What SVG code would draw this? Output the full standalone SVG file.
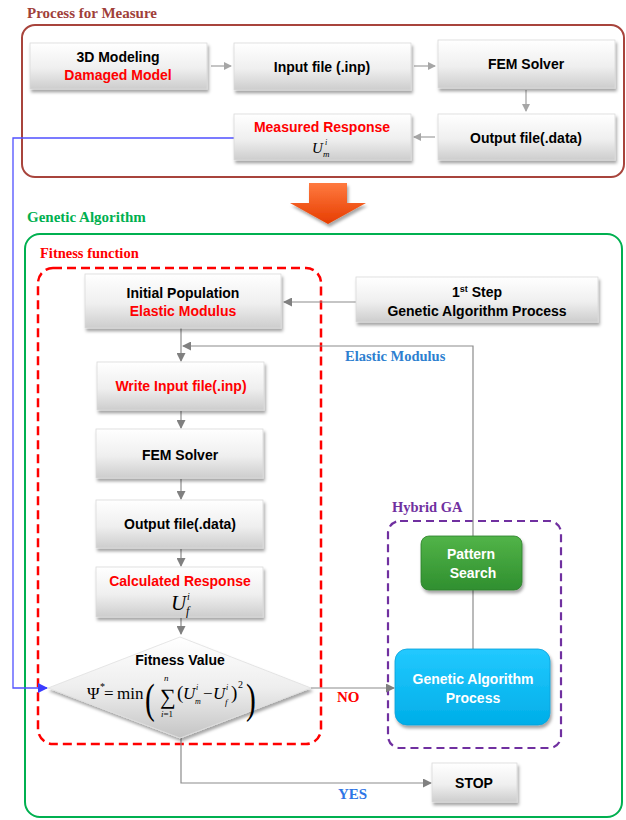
<svg xmlns="http://www.w3.org/2000/svg" width="626" height="820" viewBox="0 0 626 820">
<defs>
<linearGradient id="gBox" x1="0" y1="0" x2="0" y2="1">
<stop offset="0" stop-color="#ffffff"/><stop offset="0.55" stop-color="#efefef"/><stop offset="1" stop-color="#cdcdcd"/>
</linearGradient>
<linearGradient id="gDia" x1="0" y1="0" x2="0" y2="1">
<stop offset="0" stop-color="#ffffff"/><stop offset="0.5" stop-color="#eeeeee"/><stop offset="1" stop-color="#c4c4c4"/>
</linearGradient>
<linearGradient id="gOr" x1="0" y1="0" x2="0" y2="1">
<stop offset="0" stop-color="#ff7a40"/><stop offset="1" stop-color="#e63d00"/>
</linearGradient>
<linearGradient id="gGreen" x1="0" y1="0" x2="0" y2="1">
<stop offset="0" stop-color="#52b448"/><stop offset="1" stop-color="#2f8f2f"/>
</linearGradient>
<linearGradient id="gCyan" x1="0" y1="0" x2="0" y2="1">
<stop offset="0" stop-color="#22c9ff"/><stop offset="1" stop-color="#00aee8"/>
</linearGradient>
<filter id="sh" x="-10%" y="-10%" width="125%" height="140%">
<feDropShadow dx="1.5" dy="3" stdDeviation="1.8" flood-color="#000" flood-opacity="0.35"/>
</filter>
<marker id="ag" markerWidth="8" markerHeight="8" refX="7" refY="4" orient="auto" markerUnits="userSpaceOnUse">
<path d="M0,0 L8,4 L0,8 Z" fill="#a6a6a6"/>
</marker>
<marker id="ad" markerWidth="9" markerHeight="9" refX="8" refY="4.5" orient="auto" markerUnits="userSpaceOnUse">
<path d="M0,0 L9,4.5 L0,9 Z" fill="#808080"/>
</marker>
<marker id="ab" markerWidth="10" markerHeight="10" refX="9" refY="5" orient="auto" markerUnits="userSpaceOnUse">
<path d="M0,0 L10,5 L0,10 Z" fill="#3a3aff"/>
</marker>
</defs>
<style>
.box{fill:url(#gBox);stroke:#d9d9d9;stroke-width:0.8;filter:url(#sh)}
.t{font-family:"Liberation Sans",Arial,sans-serif;font-weight:bold;font-size:14px;text-anchor:middle;fill:#000}
.r{fill:#ff0000}
.w{fill:#ffffff}
.s{font-family:"Liberation Serif","Times New Roman",serif;font-weight:bold;font-size:15px}
.m{font-family:"Liberation Serif","Times New Roman",serif;font-style:italic;fill:#000}
.mr{font-family:"Liberation Serif","Times New Roman",serif;fill:#000}
.cg{fill:none;stroke:#a6a6a6;stroke-width:1.3}
.cd{fill:none;stroke:#8c8c8c;stroke-width:1.2}
</style>
<rect width="626" height="820" fill="#ffffff"/>

<g id="measure-frame">
<text x="27" y="18" class="s" fill="#a0403a">Process for Measure</text>
<rect x="22" y="25" width="602" height="152" rx="13" fill="none" stroke="#a8443c" stroke-width="2"/>
</g>

<g id="ga-frame">
<text x="27" y="222" class="s" fill="#00b050">Genetic Algorithm</text>
<rect x="25" y="234" width="597" height="583" rx="15" fill="none" stroke="#00b050" stroke-width="2"/>
</g>

<g id="fitness-frame">
<text x="40" y="258" class="s" fill="#ff0000" style="font-size:14.5px">Fitness function</text>
<rect x="38" y="268" width="283" height="476" rx="15" fill="none" stroke="#ff0000" stroke-width="2.5" stroke-dasharray="9,5"/>
</g>

<g id="hybrid-frame">
<text x="392" y="512" class="s" fill="#7030a0" style="font-size:14.5px">Hybrid GA</text>
<rect x="388" y="521" width="173" height="227" rx="12" fill="none" stroke="#7030a0" stroke-width="2.2" stroke-dasharray="8,5"/>
</g>

<g id="big-arrow">
<polygon points="309,183 347,183 347,203 366,203 328,224 290,203 309,203" fill="url(#gOr)" filter="url(#sh)"/>
</g>

<g id="connectors">
<line x1="211" y1="66" x2="231" y2="66" class="cg" marker-end="url(#ag)"/>
<line x1="414" y1="66" x2="435" y2="66" class="cg" marker-end="url(#ag)"/>
<line x1="526" y1="90" x2="526" y2="111" class="cg" marker-end="url(#ag)"/>
<line x1="435" y1="137" x2="414" y2="137" class="cg" marker-end="url(#ag)"/>
<polyline points="234,138 13,138 13,688 47,688" fill="none" stroke="#5050ff" stroke-width="1.3" marker-end="url(#ab)"/>
<line x1="356" y1="302" x2="284" y2="302" class="cd" marker-end="url(#ad)"/>
<line x1="181" y1="328" x2="181" y2="361" class="cd" marker-end="url(#ad)"/>
<polyline points="473,536 473,346 183,346" class="cd" marker-end="url(#ad)"/>
<line x1="181" y1="411" x2="181" y2="428" class="cd" marker-end="url(#ad)"/>
<line x1="181" y1="479" x2="181" y2="499" class="cd" marker-end="url(#ad)"/>
<line x1="181" y1="549" x2="181" y2="566" class="cd" marker-end="url(#ad)"/>
<line x1="181" y1="618" x2="181" y2="634" class="cd" marker-end="url(#ad)"/>
<line x1="311" y1="688" x2="394" y2="688" class="cd" marker-end="url(#ad)"/>
<line x1="473" y1="590" x2="473" y2="649" class="cd"/>
<polyline points="181,738 181,783 431,783" class="cd" marker-end="url(#ad)"/>
<text x="337" y="702" class="s" fill="#ff0000">NO</text>
<text x="338" y="799" class="s" fill="#2e75e6">YES</text>
<text x="345" y="361" class="s" fill="#2e7fd0" style="font-size:14.5px">Elastic Modulus</text>
</g>

<g id="n-3dmodel">
<rect x="30" y="43" width="177" height="46" class="box"/>
<text x="118" y="62" class="t">3D Modeling</text>
<text x="118" y="80" class="t r">Damaged Model</text>
</g>
<g id="n-input">
<rect x="234" y="43" width="177" height="47" class="box"/>
<text x="322" y="72" class="t">Input file (.inp)</text>
</g>
<g id="n-fem1">
<rect x="438" y="40" width="177" height="48" class="box"/>
<text x="526" y="69" class="t">FEM Solver</text>
</g>
<g id="n-output1">
<rect x="438" y="114" width="177" height="46" class="box"/>
<text x="526" y="143" class="t">Output file(.data)</text>
</g>
<g id="n-measured">
<rect x="234" y="114" width="177" height="46" class="box"/>
<text x="322" y="132" class="t r">Measured Response</text>
<text x="312" y="153" class="m" font-size="15">U</text>
<text x="325" y="145" class="m" font-size="8">i</text>
<text x="323" y="157" class="m" font-size="9">m</text>
</g>

<g id="n-initial">
<rect x="85" y="274" width="196" height="54" class="box"/>
<text x="183" y="298" class="t">Initial Population</text>
<text x="183" y="316" class="t r">Elastic Modulus</text>
</g>
<g id="n-firststep">
<rect x="356" y="277" width="242" height="45" class="box"/>
<text x="477" y="297" class="t">1<tspan font-size="9" dy="-5">st</tspan><tspan dy="5"> Step</tspan></text>
<text x="477" y="316" class="t">Genetic Algorithm Process</text>
</g>
<g id="n-write">
<rect x="97" y="362" width="167" height="48" class="box"/>
<text x="181" y="391" class="t r">Write Input file(.inp)</text>
</g>
<g id="n-fem2">
<rect x="96" y="429" width="167" height="49" class="box"/>
<text x="180" y="460" class="t">FEM Solver</text>
</g>
<g id="n-output2">
<rect x="96" y="500" width="167" height="48" class="box"/>
<text x="180" y="529" class="t">Output file(.data)</text>
</g>
<g id="n-calc">
<rect x="96" y="567" width="167" height="50" class="box"/>
<text x="180" y="586" class="t r">Calculated Response</text>
<text x="171" y="610" class="m" font-size="21">U</text>
<text x="187" y="600" class="m" font-size="10">i</text>
<text x="186" y="615" class="m" font-size="12">f</text>
</g>

<g id="n-fitness">
<polygon points="180,637 311,688 180,738 48,688" fill="url(#gDia)" stroke="#e0e0e0" stroke-width="0.8" filter="url(#sh)"/>
<text x="180" y="665" class="t">Fitness Value</text>
<text x="87" y="699" class="mr" font-size="17">Ψ</text>
<text x="100" y="690" class="mr" font-size="10">*</text>
<text x="104" y="699" class="mr" font-size="17">=</text>
<text x="117" y="699" class="mr" font-size="17">min</text>
<text x="145" y="713" class="mr" font-size="42" transform="translate(145 0) scale(0.7 1) translate(-145 0)">(</text>
<text x="160" y="704" class="mr" font-size="22">∑</text>
<text x="164" y="681" class="m" font-size="9">n</text>
<text x="161" y="717" class="m" font-size="9">i<tspan font-style="normal">=1</tspan></text>
<text x="177" y="699" class="mr" font-size="19">(</text>
<text x="183" y="699" class="m" font-size="17">U</text>
<text x="196" y="690" class="m" font-size="8">i</text>
<text x="195" y="704" class="m" font-size="8">m</text>
<text x="203" y="699" class="mr" font-size="17">−</text>
<text x="213" y="699" class="m" font-size="17">U</text>
<text x="226" y="690" class="m" font-size="8">i</text>
<text x="225" y="705" class="m" font-size="9">f</text>
<text x="231" y="699" class="mr" font-size="19">)</text>
<text x="238" y="688" class="mr" font-size="10">2</text>
<text x="246" y="713" class="mr" font-size="42" transform="translate(246 0) scale(0.7 1) translate(-246 0)">)</text>
</g>

<g id="n-pattern">
<rect x="421" y="536" width="101" height="54" rx="8" fill="url(#gGreen)" stroke="#2b7f2b" stroke-width="0.8" filter="url(#sh)"/>
<text x="471" y="559" class="t w">Pattern</text>
<text x="473" y="578" class="t w">Search</text>
</g>
<g id="n-gaprocess">
<rect x="395" y="649" width="155" height="76" rx="12" fill="url(#gCyan)" stroke="#0aa0d8" stroke-width="0.8" filter="url(#sh)"/>
<text x="473" y="684" class="t w">Genetic Algorithm</text>
<text x="473" y="703" class="t w">Process</text>
</g>
<g id="n-stop">
<rect x="432" y="763" width="85" height="39" class="box"/>
<text x="474" y="788" class="t" font-size="15">STOP</text>
</g>
</svg>
